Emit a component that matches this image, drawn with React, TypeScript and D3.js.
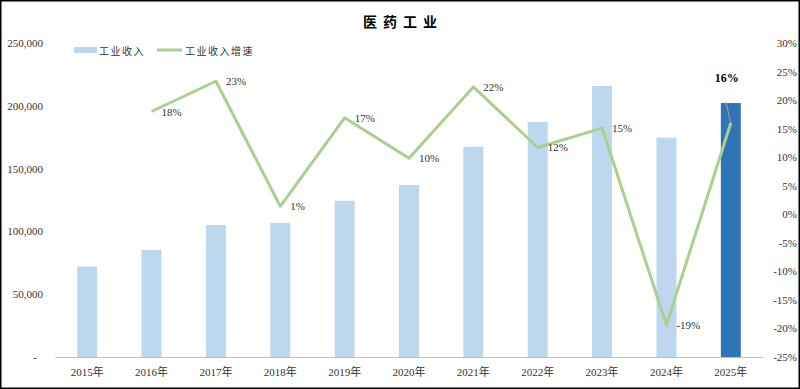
import { useEffect, useRef } from 'react';
import * as d3 from 'd3';

const years = ['2015年', '2016年', '2017年', '2018年', '2019年', '2020年', '2021年', '2022年', '2023年', '2024年', '2025年'];
const revenue = [71900, 85200, 105100, 106700, 124400, 136900, 167400, 187100, 215800, 174600, 202200];
const growth: (number | null)[] = [null, 0.18, 0.233, 0.014, 0.169, 0.098, 0.223, 0.117, 0.151, -0.194, 0.16];
const leftTicks = [0, 50000, 100000, 150000, 200000, 250000];
const rightTicks = [-0.25, -0.2, -0.15, -0.1, -0.05, 0, 0.05, 0.1, 0.15, 0.2, 0.25, 0.3];

const SERIF = "'Liberation Serif', 'Times New Roman', 'Noto Sans CJK SC', serif";
const CJK = "'Noto Sans CJK SC', sans-serif";

// d3 uses a unicode minus, the reference uses a plain hyphen
const pct = (v: number) => d3.format('.0%')(v).replace('\u2212', '-');

export default function App() {
  const svgRef = useRef<SVGSVGElement>(null);

  useEffect(() => {
    if (!svgRef.current) return;
    const width = 800;
    const height = 389;
    const margin = { top: 43, right: 36, bottom: 32, left: 55 };

    d3.select(svgRef.current).selectAll('*').remove();
    const svg = d3.select(svgRef.current).attr('width', width).attr('height', height);

    svg.append('rect')
      .attr('x', 0).attr('y', 0).attr('width', width).attr('height', height)
      .attr('fill', '#fff');

    const x = d3.scaleBand<string>()
      .domain(years)
      .range([margin.left, width - margin.right - 1])
      .paddingInner(0.69)
      .paddingOuter(0.345);

    const yL = d3.scaleLinear().domain([0, 250000]).range([height - margin.bottom, margin.top]);
    const yR = d3.scaleLinear().domain([-0.25, 0.3]).range([height - margin.bottom, margin.top]);

    // bars
    svg.selectAll('.bar')
      .data(revenue)
      .enter()
      .append('rect')
      .attr('class', 'bar')
      .attr('x', (_, i) => x(years[i]) || 0)
      .attr('y', (d) => yL(d))
      .attr('width', x.bandwidth())
      .attr('height', (d) => yL(0) - yL(d))
      .attr('fill', (_, i) => (i === years.length - 1 ? '#2E75B6' : '#BDD7EE'));

    // bottom axis
    const xAxis = svg.append('g')
      .attr('transform', `translate(0, ${yL(0)})`)
      .call(d3.axisBottom(x).tickSize(0).tickPadding(11));
    xAxis.select('.domain').attr('stroke', '#BFBFBF').attr('stroke-width', 1);
    xAxis.selectAll('text')
      .style('font-family', SERIF)
      .style('font-size', '11px')
      .style('fill', '#333');

    // left axis
    const lAxis = svg.append('g')
      .attr('transform', `translate(${margin.left}, 0)`)
      .call(
        d3.axisLeft(yL)
          .tickValues(leftTicks)
          .tickSize(0)
          .tickPadding(12)
          .tickFormat((d) => (+d === 0 ? '-' : d3.format(',')(+d)))
      );
    lAxis.select('.domain').remove();
    lAxis.selectAll('text')
      .attr('dx', (d) => (d === 0 ? -6 : 0))
      .style('font-family', SERIF)
      .style('font-size', '11px')
      .style('fill', '#333');

    // right axis
    const rAxis = svg.append('g')
      .attr('transform', `translate(${width - 3}, 0)`)
      .call(d3.axisRight(yR).tickValues(rightTicks).tickSize(0).tickPadding(0).tickFormat((d) => pct(+d)));
    rAxis.select('.domain').remove();
    rAxis.selectAll('text')
      .attr('text-anchor', 'end')
      .style('font-family', SERIF)
      .style('font-size', '11px')
      .style('fill', '#333');

    // growth line
    const pts = growth
      .map((g, i) => ({ year: years[i], g }))
      .filter((d) => d.g !== null) as { year: string; g: number }[];
    const cx = (d: { year: string }) => (x(d.year) || 0) + x.bandwidth() / 2;

    svg.append('path')
      .datum(pts)
      .attr('fill', 'none')
      .attr('stroke', '#A9D18E')
      .attr('stroke-width', 3)
      .attr('stroke-linejoin', 'round')
      .attr('d', d3.line<{ year: string; g: number }>().x(cx).y((d) => yR(d.g)));

    // data labels
    const last = pts[pts.length - 1];
    svg.selectAll('.lbl')
      .data(pts.slice(0, -1))
      .enter()
      .append('text')
      .attr('class', 'lbl')
      .attr('x', (d) => cx(d) + 10)
      .attr('y', (d) => yR(d.g))
      .attr('dominant-baseline', 'central')
      .style('font-family', SERIF)
      .style('font-size', '11px')
      .style('fill', '#333')
      .text((d) => pct(d.g));

    // 2025 callout
    svg.append('line')
      .attr('x1', cx(last) - 5)
      .attr('y1', yR(last.g) - 21)
      .attr('x2', cx(last))
      .attr('y2', yR(last.g))
      .attr('stroke', '#A6A6A6')
      .attr('stroke-width', 1);
    svg.append('text')
      .attr('x', cx(last) - 4)
      .attr('y', yR(last.g) - 45)
      .attr('text-anchor', 'middle')
      .attr('dominant-baseline', 'central')
      .style('font-family', SERIF)
      .style('font-size', '12px')
      .style('font-weight', 'bold')
      .style('fill', '#000')
      .text(pct(last.g));

    // legend
    const lg = svg.append('g');
    lg.append('rect').attr('x', 74).attr('y', 47).attr('width', 23).attr('height', 6).attr('fill', '#BDD7EE');
    lg.append('text')
      .attr('x', 99).attr('y', 50)
      .attr('dominant-baseline', 'central')
      .style('font-family', CJK).style('font-size', '10px').style('letter-spacing', '1.5px').style('fill', '#333')
      .text('工业收入');
    lg.append('line')
      .attr('x1', 157).attr('x2', 182).attr('y1', 50).attr('y2', 50)
      .attr('stroke', '#A9D18E').attr('stroke-width', 3);
    lg.append('text')
      .attr('x', 185).attr('y', 50)
      .attr('dominant-baseline', 'central')
      .style('font-family', CJK).style('font-size', '10px').style('letter-spacing', '1.5px').style('fill', '#333')
      .text('工业收入增速');

    // title
    svg.append('text')
      .attr('x', width / 2 + 3)
      .attr('y', 21)
      .attr('text-anchor', 'middle')
      .attr('dominant-baseline', 'central')
      .style('font-family', CJK)
      .style('font-size', '14px')
      .style('font-weight', 'bold')
      .style('letter-spacing', '6px')
      .style('fill', '#000')
      .text('医药工业');

    // outer frame
    svg.append('rect')
      .attr('x', 0.75).attr('y', 0.75).attr('width', width - 1.5).attr('height', height - 1.5)
      .attr('fill', 'none').attr('stroke', '#000').attr('stroke-width', 1.5);
  }, []);

  return (
    <div style={{ position: 'absolute', left: 0, top: 0 }}>
      <svg ref={svgRef} style={{ display: 'block' }} />
    </div>
  );
}
